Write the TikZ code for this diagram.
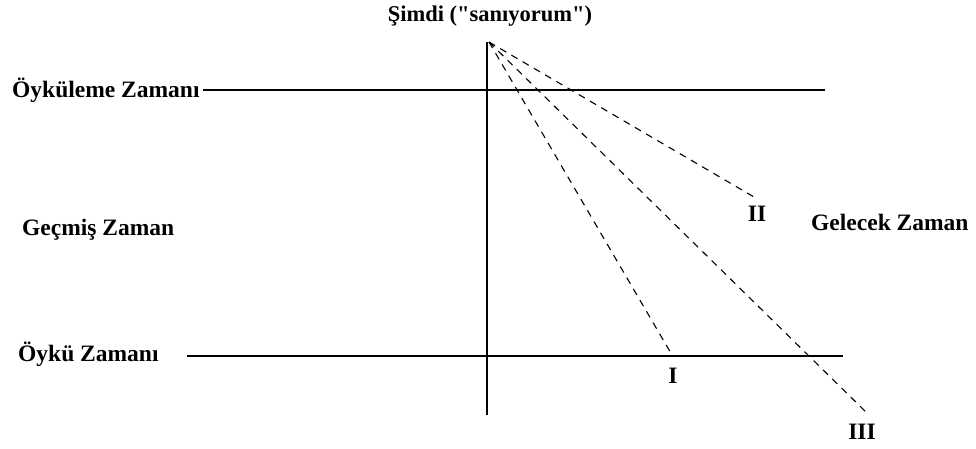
\documentclass[tikz,border=0pt]{standalone}
\usepackage{fontspec}
\setmainfont{Liberation Serif}
\newfontfamily\qfont{Liberation Serif}[Ligatures=TeXOff]
\newcommand\sq{{\qfont\bfseries\symbol{34}}}
\begin{document}
\begin{tikzpicture}[x=1pt,y=-1pt,
  lbl/.style={font=\fontsize{23.5}{27}\selectfont\bfseries, inner sep=0pt},
  axis/.style={line width=1.2pt, black},
  ray/.style={line width=1.1pt, dash pattern=on 7pt off 6pt}]
\useasboundingbox[fill=white] (0,0) rectangle (976,448);
% axes
\coordinate (vtop) at (487,42);
\coordinate (vbot) at (487,415);
\draw[axis] (vtop) -- (vbot);
\node[lbl, anchor=west] (oykuleme) at (12,90) {Öyküleme Zamanı};
\coordinate (uright) at (825,90);
\draw[axis] (oykuleme.east) ++(3,0) -- (uright);
\node[lbl, anchor=west] (oyku) at (18,354) {Öykü Zamanı};
\coordinate (lleft) at (187,356);
\coordinate (lright) at (843,356);
\draw[axis] (lleft) -- (lright);
\node[lbl, anchor=west] (gecmis) at (22,230) {Geçmiş Zaman};
\node[lbl, anchor=west] (gecelek) at (811,222) {Gelecek Zaman};
\node[lbl, font=\fontsize{22.5}{26}\selectfont\bfseries] (simdi) at (490,16) {Şimdi (\sq sanıyorum\sq)};
% rays
\coordinate (o) at (489,42);
\coordinate (e1) at (672,355);
\coordinate (e2) at (754,197);
\coordinate (e3) at (867,413);
\draw[ray] (o) -- (e1);
\draw[ray] (o) -- (e2);
\draw[ray] (o) -- (e3);
\node[lbl] (I) at (673,376) {I};
\node[lbl] (II) at (757,214) {II};
\node[lbl] (III) at (862,432) {III};
\end{tikzpicture}
\end{document}
